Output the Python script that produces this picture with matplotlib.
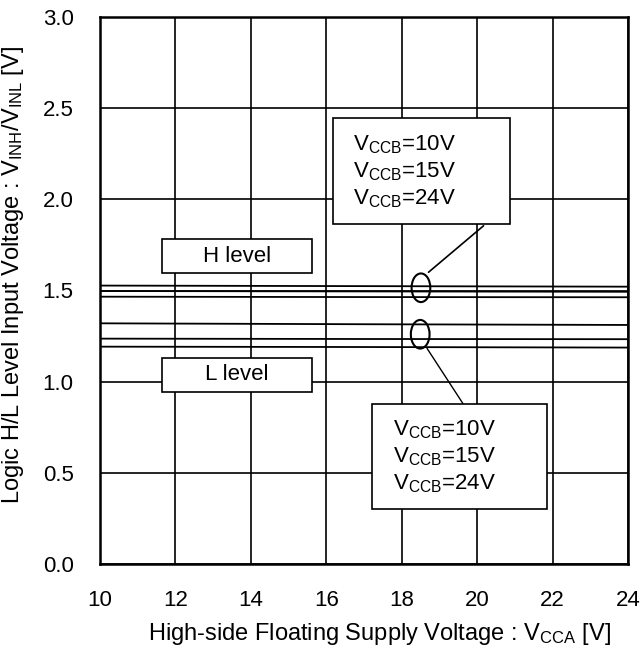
import matplotlib
matplotlib.use('agg')
from matplotlib import pyplot as plt
from matplotlib.patches import Ellipse, Rectangle

plt.rcParams['font.family'] = ['Liberation Sans', 'DejaVu Sans']
plt.rcParams['mathtext.fontset'] = 'custom'
plt.rcParams['mathtext.rm'] = 'Liberation Sans'
plt.rcParams['mathtext.it'] = 'Liberation Sans'

vcca = [10, 17, 24]
vinh_10 = [1.527, 1.524, 1.521]
vinh_15 = [1.497, 1.495, 1.493]
vinh_24 = [1.466, 1.464, 1.463]
vinl_10 = [1.320, 1.315, 1.311]
vinl_15 = [1.236, 1.234, 1.233]
vinl_24 = [1.192, 1.190, 1.187]

x_ticks = [10, 12, 14, 16, 18, 20, 22, 24]
y_ticks = [0.0, 0.5, 1.0, 1.5, 2.0, 2.5, 3.0]
vccb_labels = [r'V$\mathregular{_{CCB}}$=10V', r'V$\mathregular{_{CCB}}$=15V', r'V$\mathregular{_{CCB}}$=24V']

fig = plt.figure(figsize=(6.44, 6.47), dpi=100)
ax = fig.add_axes([100 / 644, 83 / 647, 528 / 644, 547 / 647])

for ys in [vinh_10, vinh_15, vinh_24, vinl_10, vinl_15, vinl_24]:
    ax.plot(vcca, ys, color='black', lw=1.3, zorder=3)

ax.set_xlim(10, 24)
ax.set_ylim(0, 3)
ax.set_xticks(x_ticks)
ax.set_yticks(y_ticks)
ax.set_yticklabels(['%.1f' % v for v in y_ticks])
ax.tick_params(length=0, labelsize=16)
ax.tick_params(axis='x', pad=19)
ax.tick_params(axis='y', pad=19)
ax.grid(True, color='black', lw=1.2)
ax.set_axisbelow(True)
for s in ax.spines.values():
    s.set_linewidth(1.8)

ax.set_xlabel(r'High-side Floating Supply Voltage : V$\mathregular{_{CCA}}$ [V]', fontsize=17)
ax.xaxis.set_label_coords(0.53, -0.104)
ax.set_ylabel(r'Logic H/L Level Input Voltage : V$\mathregular{_{INH}}$/V$\mathregular{_{INL}}$ [V]', fontsize=17)
ax.yaxis.set_label_coords(-0.140, 0.528)

# level boxes
for y0, y1, txt in [(1.594, 1.781, 'H level'), (0.945, 1.131, 'L level')]:
    ax.add_patch(Rectangle((11.64, y0), 15.63 - 11.64, y1 - y0, facecolor='white',
                           edgecolor='black', lw=1.2, zorder=5))
    ax.text((11.64 + 15.63) / 2, (y0 + y1) / 2, txt, ha='center', va='center',
            fontsize=16, zorder=6)

# VCCB boxes
ax.add_patch(Rectangle((16.18, 1.863), 20.88 - 16.18, 2.444 - 1.863, facecolor='white',
                       edgecolor='black', lw=1.2, zorder=5))
for yy, txt in zip([2.298, 2.152, 2.006], vccb_labels):
    ax.text(16.72, yy, txt, ha='left', va='center', fontsize=16, zorder=6)

ax.add_patch(Rectangle((17.21, 0.300), 21.85 - 17.21, 0.8775 - 0.300, facecolor='white',
                       edgecolor='black', lw=1.2, zorder=5))
for yy, txt in zip([0.739, 0.588, 0.439], vccb_labels):
    ax.text(17.77, yy, txt, ha='left', va='center', fontsize=16, zorder=6)

# ellipses and leaders
ax.add_patch(Ellipse((18.51, 1.515), 0.496, 0.157, fill=False, edgecolor='black', lw=1.5, zorder=4))
ax.add_patch(Ellipse((18.49, 1.260), 0.496, 0.157, fill=False, edgecolor='black', lw=1.5, zorder=4))
ax.annotate('', xy=(18.71, 1.600), xytext=(20.17, 1.855),
            arrowprops=dict(arrowstyle='-', color='black', lw=1.2, shrinkA=0, shrinkB=0))
ax.annotate('', xy=(18.67, 1.183), xytext=(19.62, 0.881),
            arrowprops=dict(arrowstyle='-', color='black', lw=1.0, shrinkA=0, shrinkB=0))

fig.savefig('out.png')
